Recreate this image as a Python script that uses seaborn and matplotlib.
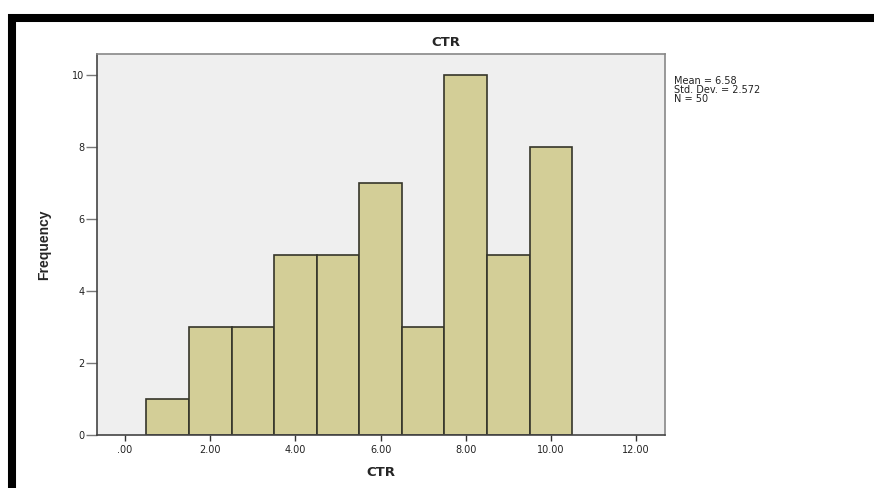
import numpy as np
import pandas as pd
import matplotlib
matplotlib.use('Agg')
import matplotlib.pyplot as plt
import seaborn as sns
from matplotlib.lines import Line2D

# CTR values (bin centres) and how often each occurs
ctr_values = [1, 2, 3, 4, 5, 6, 7, 8, 9, 10]
frequency = [1, 3, 3, 5, 5, 7, 3, 10, 5, 8]
x_ticks = [0, 2, 4, 6, 8, 10, 12]
x_tick_labels = ['.00', '2.00', '4.00', '6.00', '8.00', '10.00', '12.00']
y_ticks = [0, 2, 4, 6, 8, 10]
stats_lines = ['Mean = 6.58', 'Std. Dev. = 2.572', 'N = 50']

# one row per observation (50 rows)
df = pd.DataFrame({'CTR': np.repeat(ctr_values, frequency)})

sns.set_style('white')
plt.rcParams['font.family'] = ['DejaVu Sans']

fig = plt.figure(figsize=(8.74, 4.88), dpi=100)
ax = fig.add_axes([97 / 874, 1 - 435 / 488, (665 - 97) / 874, (435 - 54) / 488])
ax.set_facecolor('#efefef')

sns.histplot(data=df, x='CTR', bins=np.arange(0.5, 11.5, 1),
             color='#d3ce97', edgecolor='#35352a', linewidth=1.2, alpha=1, ax=ax)

ax.set_xlim(-0.66, 12.68)
ax.set_ylim(0, 10.58)
ax.set_xticks(x_ticks)
ax.set_xticklabels(x_tick_labels, fontsize=7, color='#222222')
ax.set_yticks(y_ticks)
ax.set_yticklabels([str(t) for t in y_ticks], fontsize=7, color='#222222')
ax.tick_params(axis='x', direction='out', length=4, width=1, color='#333333', pad=3, bottom=True)
ax.tick_params(axis='y', direction='out', length=8, width=1, color='#777777', pad=1, left=True)

for side in ['left', 'bottom']:
    ax.spines[side].set_color('#444444')
    ax.spines[side].set_linewidth(1.2)
for side in ['top', 'right']:
    ax.spines[side].set_color('#888888')
    ax.spines[side].set_linewidth(1.2)

ax.set_xlabel('CTR', fontsize=9.5, fontweight='bold', labelpad=8)
ax.set_ylabel('Frequency', fontsize=10, fontweight='bold',
              family=['Liberation Sans Narrow', 'Liberation Sans', 'DejaVu Sans'], labelpad=15)

fig.text(446 / 874, 1 - 43 / 488, 'CTR', ha='center', va='center',
         fontsize=9.5, fontweight='bold')
fig.text(674 / 874, 1 - 76 / 488, '\n'.join(stats_lines), ha='left', va='top',
         fontsize=7, linespacing=0.85, color='#222222')

# black frame along the top and left edges
fig.add_artist(Line2D([8 / 874, 1], [1 - 18 / 488, 1 - 18 / 488], color='black',
                      linewidth=5.8, transform=fig.transFigure, solid_capstyle='butt'))
fig.add_artist(Line2D([12 / 874, 12 / 874], [1 - 14 / 488, 0], color='black',
                      linewidth=5.8, transform=fig.transFigure, solid_capstyle='butt'))

fig.savefig('out.png', dpi=100)
